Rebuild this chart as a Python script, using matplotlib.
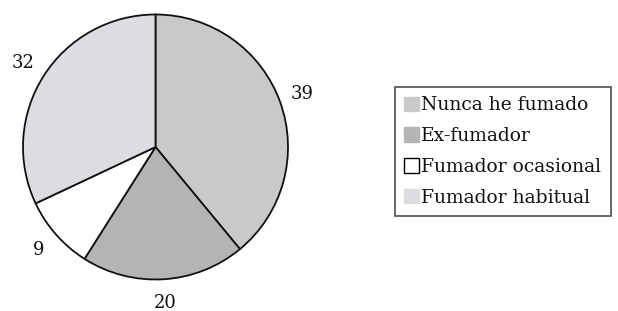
import matplotlib
matplotlib.use("Agg")
import matplotlib.pyplot as plt
from matplotlib.patches import Patch

categories = ["Nunca he fumado", "Ex-fumador", "Fumador ocasional", "Fumador habitual"]
values = [39, 20, 9, 32]
colors = ["#c8c9cb", "#b3b4b6", "#ffffff", "#dcdde0"]

plt.rcParams['font.family'] = ['DejaVu Serif']

fig = plt.figure(figsize=(6.18, 3.11), dpi=100)
W, H = 618, 311
cx, cy, r = 155.5, 147, 132.5
ax = fig.add_axes([(cx - r) / W, 1 - (cy + r) / H, 2 * r / W, 2 * r / H])

wedges, texts = ax.pie(values, colors=colors, labels=[str(v) for v in values],
                       startangle=90, counterclock=False, labeldistance=1.18,
                       wedgeprops=dict(edgecolor="#111111", linewidth=1.3),
                       textprops=dict(fontsize=13, color="#111111"))
for t in texts:
    t.set_horizontalalignment("center")
    t.set_verticalalignment("center")
ax.set_xlim(-1, 1)
ax.set_ylim(-1, 1)
ax.set_aspect("auto")
ax.axis("off")

handles = []
for c in colors:
    if c == "#ffffff":
        handles.append(Patch(facecolor=c, edgecolor="black", linewidth=1))
    else:
        handles.append(Patch(facecolor=c, edgecolor=c, linewidth=1))

leg = fig.legend(handles, categories, loc="upper left",
                 bbox_to_anchor=(395 / W, 1 - 87 / H), fancybox=False,
                 frameon=True, edgecolor="#222222", fontsize=13.5,
                 handlelength=0.8, handleheight=0.8, handletextpad=0.1,
                 labelspacing=0.68, borderpad=0.5, borderaxespad=0)
for t in leg.get_texts():
    t.set_color("#111111")
leg.get_frame().set_linewidth(1.2)

fig.savefig("out.png", dpi=100, facecolor="white")
